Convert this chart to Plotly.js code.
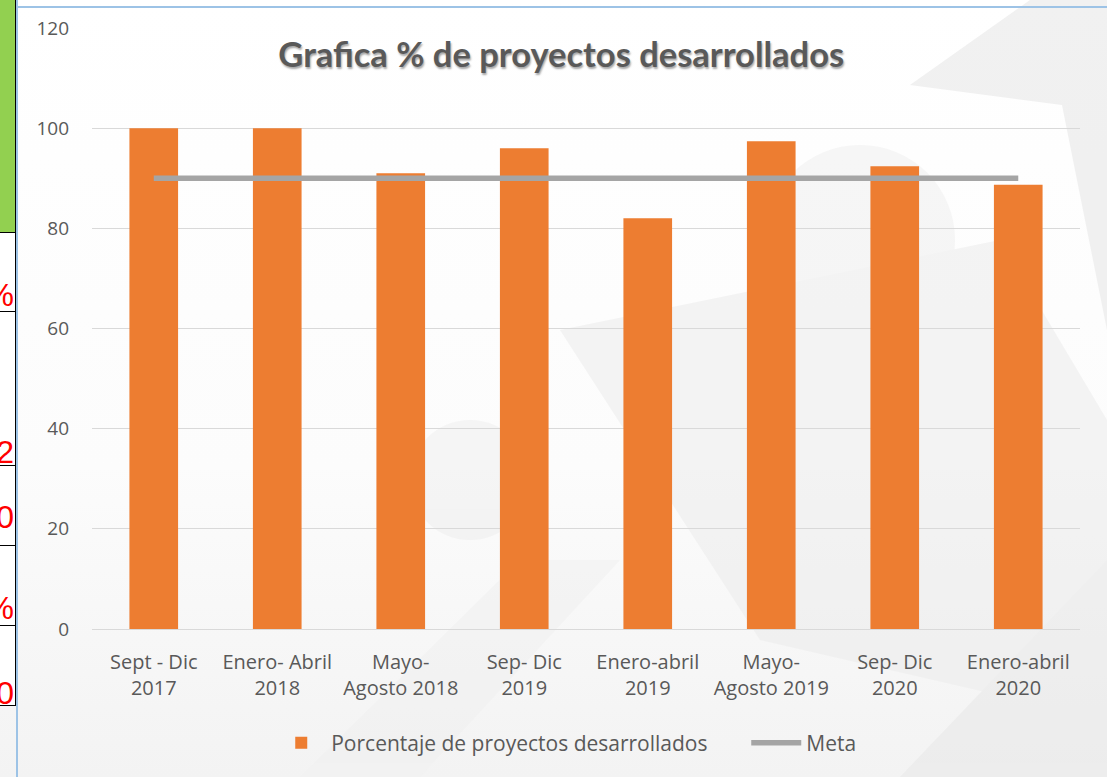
<!DOCTYPE html>
<html>
<head>
<meta charset="utf-8">
<script src="https://cdn.plot.ly/plotly-3.0.1.min.js"></script>
<style>
html,body{margin:0;padding:0;width:1107px;height:777px;overflow:hidden;background:#ffffff;}
#bg{position:absolute;left:0;top:0;}
#chart{position:absolute;left:0;top:0;width:1107px;height:777px;}
#strip{position:absolute;left:0;top:0;width:15px;height:705px;overflow:hidden;border-right:1px solid #000;border-bottom:1px solid #000;background:#fff;}
#strip .green{position:absolute;left:0;top:0;width:15px;height:232px;background:#92D050;border-bottom:1px solid #000;}
#strip .hl{position:absolute;left:0;width:15px;height:0;border-top:1px solid #000;}
#strip .rt{position:absolute;right:1px;font-family:"Liberation Sans",Arial,sans-serif;font-size:32px;line-height:32px;color:#ff0000;white-space:nowrap;}
#vline{position:absolute;left:16px;top:0;width:2px;height:777px;background:#9DC3E6;}
#hline{position:absolute;left:16px;top:6px;width:1091px;height:2px;background:#9DC3E6;}
</style>
</head>
<body>
<svg id="bg" width="1107" height="777">
  <defs>
    <linearGradient id="g1" x1="0" y1="0" x2="0" y2="1">
      <stop offset="0" stop-color="#ffffff"/>
      <stop offset="0.6" stop-color="#fcfcfc"/>
      <stop offset="1" stop-color="#f3f3f3"/>
    </linearGradient>
  </defs>
  <rect x="0" y="0" width="1107" height="777" fill="url(#g1)"/>
  <g opacity="0.55">
    <polygon points="1030,0 1107,0 1107,330 1062,105 910,85" fill="#e6e6e6"/>
    <circle cx="860" cy="240" r="95" fill="#f0f0f0"/>
    <polygon points="560,330 1000,240 1107,420 1107,720 760,640" fill="#ececec"/>
    <circle cx="470" cy="480" r="60" fill="#eeeeee"/>
    <polygon points="300,777 520,560 620,560 420,777" fill="#f0f0f0"/>
    <polygon points="900,777 1107,560 1107,777" fill="#e8e8e8"/>
  </g>
</svg>
<div id="chart"></div>
<div id="strip">
  <div class="green"></div>
  <div class="hl" style="top:311px"></div>
  <div class="hl" style="top:465px"></div>
  <div class="hl" style="top:545px"></div>
  <div class="hl" style="top:625px"></div>
  <div class="rt" style="top:279px">%</div>
  <div class="rt" style="top:436px">2</div>
  <div class="rt" style="top:501px">0</div>
  <div class="rt" style="top:592px">%</div>
  <div class="rt" style="top:677px">0</div>
</div>
<div id="vline"></div>
<div id="hline"></div>
<script>
const titleText = "Grafica % de proyectos desarrollados";
const categories = [
  "Sept - Dic<br>2017",
  "Enero- Abril<br>2018",
  "Mayo-<br>Agosto 2018",
  "Sep- Dic<br>2019",
  "Enero-abril<br>2019",
  "Mayo-<br>Agosto 2019",
  "Sep- Dic<br>2020",
  "Enero-abril<br>2020"
];
const porcentaje = [100, 100, 91, 96, 82, 97.4, 92.4, 88.7];
const meta = [90, 90, 90, 90, 90, 90, 90, 90];
const yTicks = [0, 20, 40, 60, 80, 100, 120];
const seriesNames = ["Porcentaje de proyectos desarrollados", "Meta"];

const traces = [
  {
    type: "bar",
    x: categories,
    y: porcentaje,
    name: seriesNames[0],
    legendwidth: 410,
    marker: {color: "#ED7D31", line: {width: 0}},
    hoverinfo: "x+y"
  },
  {
    type: "scatter",
    mode: "lines",
    x: categories,
    y: meta,
    name: seriesNames[1],
    line: {color: "#A5A5A5", width: 5.5}
  }
];

const layout = {
  width: 1107,
  height: 777,
  margin: {l: 92, r: 27, t: 28, b: 148, pad: 0},
  paper_bgcolor: "rgba(0,0,0,0)",
  plot_bgcolor: "rgba(0,0,0,0)",
  font: {family: '"Open Sans", "Noto Sans", sans-serif', color: "#595959", size: 19},
  title: {
    text: titleText,
    font: {family: 'Lato, "Open Sans", sans-serif', size: 34.5, color: "#595959", weight: "bold",
           shadow: "1px 2px 2px rgba(0,0,0,0.35)"},
    x: 0.507, xref: "container", xanchor: "center",
    y: 0.929, yref: "container", yanchor: "middle"
  },
  bargap: 0.606,
  showlegend: true,
  xaxis: {
    type: "category",
    showgrid: false,
    zeroline: false,
    showline: false,
    ticks: "",
    tickangle: 0,
    ticklabelstandoff: 19,
    tickfont: {size: 20, color: "#595959"},
    automargin: false
  },
  yaxis: {
    range: [0, 120],
    tickvals: yTicks,
    ticktext: yTicks.map(String),
    showgrid: true,
    gridcolor: "#D9D9D9",
    gridwidth: 1,
    zeroline: true,
    zerolinecolor: "#D9D9D9",
    zerolinewidth: 1,
    showline: false,
    ticks: "",
    ticklabelstandoff: 22,
    tickfont: {size: 19, color: "#595959"},
    automargin: false
  },
  legend: {
    orientation: "h",
    x: 0.48,
    xanchor: "center",
    y: -0.19,
    yanchor: "middle",
    font: {size: 21, color: "#595959"},
    itemwidth: 50,
    bgcolor: "rgba(0,0,0,0)",
    traceorder: "normal"
  }
};

Plotly.newPlot("chart", traces, layout, {displayModeBar: false, staticPlot: true});
</script>
</body>
</html>
